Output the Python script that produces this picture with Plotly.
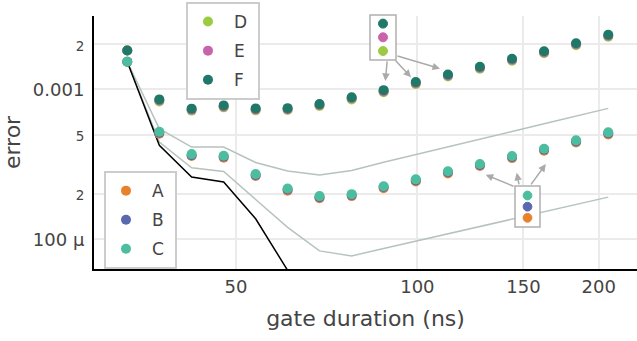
import plotly.graph_objects as go

# ---------------- data ----------------
durations = [33.0, 37.3, 42.2, 47.7, 53.9, 60.9, 68.8, 77.8, 87.9, 99.4,
             112.4, 127.0, 143.6, 162.3, 183.4, 207.4]

A = [1.53e-3, 5.06e-4, 3.59e-4, 3.50e-4, 2.64e-4, 2.11e-4, 1.88e-4, 1.94e-4,
     2.19e-4, 2.43e-4, 2.75e-4, 3.08e-4, 3.48e-4, 3.90e-4, 4.43e-4, 5.01e-4]
B = [1.53e-3, 5.14e-4, 3.64e-4, 3.56e-4, 2.68e-4, 2.15e-4, 1.91e-4, 1.97e-4,
     2.23e-4, 2.47e-4, 2.80e-4, 3.13e-4, 3.54e-4, 3.96e-4, 4.50e-4, 5.09e-4]
C = [1.53e-3, 5.22e-4, 3.70e-4, 3.61e-4, 2.72e-4, 2.18e-4, 1.94e-4, 2.00e-4,
     2.26e-4, 2.51e-4, 2.84e-4, 3.18e-4, 3.59e-4, 4.02e-4, 4.57e-4, 5.17e-4]
D = [1.82e-3, 8.32e-4, 7.22e-4, 7.59e-4, 7.25e-4, 7.28e-4, 7.74e-4, 8.58e-4,
     9.59e-4, 1.085e-3, 1.221e-3, 1.374e-3, 1.554e-3, 1.746e-3, 1.974e-3, 2.246e-3]
E = [1.82e-3, 8.45e-4, 7.33e-4, 7.70e-4, 7.36e-4, 7.39e-4, 7.86e-4, 8.72e-4,
     9.74e-4, 1.102e-3, 1.240e-3, 1.395e-3, 1.578e-3, 1.773e-3, 2.005e-3, 2.280e-3]
F = [1.82e-3, 8.58e-4, 7.44e-4, 7.82e-4, 7.47e-4, 7.50e-4, 7.98e-4, 8.85e-4,
     9.89e-4, 1.119e-3, 1.259e-3, 1.416e-3, 1.602e-3, 1.800e-3, 2.035e-3, 2.315e-3]

black_line = [1.53e-3, 4.23e-4, 2.60e-4, 2.41e-4, 1.37e-4, 6.2e-5, 4.0e-5]
upper_bound = [1.53e-3, 5.47e-4, 4.12e-4, 4.12e-4, 3.25e-4, 2.85e-4, 2.68e-4, 2.88e-4,
               3.26e-4, 3.66e-4, 4.12e-4, 4.65e-4, 5.23e-4, 5.89e-4, 6.64e-4, 7.47e-4]
lower_bound = [1.53e-3, 4.45e-4, 3.00e-4, 2.83e-4, 1.84e-4, 1.20e-4, 8.36e-5, 7.74e-5,
               8.67e-5, 9.71e-5, 1.087e-4, 1.217e-4, 1.362e-4, 1.525e-4, 1.708e-4, 1.91e-4]

series_names = ["A", "B", "C", "D", "E", "F"]
series_values = [A, B, C, D, E, F]
colors = ["#e8822a", "#5a68b0", "#4cbd9f", "#9ccb41", "#c964ab", "#1f7868"]
legend_ids = ["legend", "legend", "legend", "legend2", "legend2", "legend2"]

x_ticks = [50, 100, 150, 200]
y_ticks = [1e-4, 2e-4, 5e-4, 1e-3, 2e-3]
y_ticklabels = ["100 μ", "2", "5", "0.001", "2"]
y_minor = [False, True, True, False, True]

# ---------------- figure ----------------
FONT = "Verdana, DejaVu Sans, sans-serif"
W, H = 637, 341
ML, MR, MT, MB = 94, 0, 16, 72
fig = go.Figure()

gray = "#b6c3bc"
fig.add_trace(go.Scatter(x=durations, y=upper_bound, mode="lines",
                         line=dict(color=gray, width=1.5), showlegend=False, hoverinfo="skip"))
fig.add_trace(go.Scatter(x=durations, y=lower_bound, mode="lines",
                         line=dict(color=gray, width=1.5), showlegend=False, hoverinfo="skip"))
fig.add_trace(go.Scatter(x=durations[:len(black_line)], y=black_line, mode="lines",
                         line=dict(color="black", width=1.5), showlegend=False, hoverinfo="skip"))

for name, vals, col, lg in zip(series_names, series_values, colors, legend_ids):
    fig.add_trace(go.Scatter(x=durations, y=vals, mode="markers", name=name + "\u00a0",
                             legendgroup=name,
                             marker=dict(color=col, size=10), legend=lg))

# plot-area geometry helpers (pixel -> log-axis / paper coordinates for callouts)
XLOG0, PXDEC = 1.46329, 602.5
def px2x(px):
    return XLOG0 + (px - ML) / PXDEC
def px2y(py):
    return -3 - (py - 89.5) / 150.0
def px2paper(px, py):
    return (px - ML) / (W - ML - MR), (H - MB - py) / (H - MT - MB)

shapes = []
def callout_box(cx, cy, w, h, dot_cols, dot_ys, r):
    ax_, ay_ = px2paper(cx, cy)
    shapes.append(dict(type="rect", xref="paper", yref="paper", xsizemode="pixel",
                       ysizemode="pixel", xanchor=ax_, yanchor=ay_,
                       x0=-w / 2, x1=w / 2, y0=-h / 2, y1=h / 2,
                       line=dict(color="#b0b0b0", width=1.5), fillcolor="white"))
    for c, dy in zip(dot_cols, dot_ys):
        dx_, dy_ = px2paper(cx, dy)
        shapes.append(dict(type="circle", xref="paper", yref="paper", xsizemode="pixel",
                           ysizemode="pixel", xanchor=dx_, yanchor=dy_,
                           x0=-r, x1=r, y0=-r, y1=r,
                           line=dict(color=c, width=1), fillcolor=c))

callout_box(383, 37.5, 26, 45, [colors[5], colors[4], colors[3]], [23.6, 37.3, 51.0], 4.5)
callout_box(527.5, 206.5, 25, 41, [colors[2], colors[1], colors[0]], [195.5, 206.7, 217.8], 4.4)

annotations = []
arrows = [((387.3, 60), (385.3, 81)), ((394.3, 59.3), (411, 77.3)), ((396, 55.7), (440, 68.7)),
          ((515, 187), (485.7, 175)), ((519.3, 186), (516.7, 173)), ((530, 186), (545.8, 164.3))]
for (tx, ty), (hx, hy) in arrows:
    annotations.append(dict(x=px2x(hx), y=px2y(hy), xref="x", yref="y", text="",
                            showarrow=True, ax=tx - hx, ay=ty - hy, arrowhead=2,
                            arrowsize=1, arrowwidth=1.5, arrowcolor="#aaaaaa"))

y_ticktext = ['<span style="font-size:13.5px">%s</span>' % t if m else t
              for t, m in zip(y_ticklabels, y_minor)]

legend_common = dict(xanchor="left", yanchor="top", bordercolor="#cccccc", borderwidth=2,
                     bgcolor="white", font=dict(size=17, family=FONT),
                     tracegroupgap=4, itemwidth=42, indentation=-6)

fig.update_layout(
    width=W, height=H,
    margin=dict(l=ML, r=MR, t=MT, b=MB),
    paper_bgcolor="white", plot_bgcolor="white",
    font=dict(family=FONT, color="#444"),
    xaxis=dict(type="log", range=[XLOG0, XLOG0 + (W - ML - MR) / PXDEC],
               tickvals=x_ticks, ticktext=[str(v) for v in x_ticks],
               showline=True, linecolor="black", linewidth=2,
               showgrid=True, gridcolor="#ebebeb", gridwidth=1.5, zeroline=False,
               tickfont=dict(size=18, family=FONT),
               title=dict(text="gate duration (ns)", font=dict(size=22, family=FONT))),
    yaxis=dict(type="log", range=[-4.1987, -2.51],
               tickvals=y_ticks, ticktext=y_ticktext, ticklabelstandoff=4,
               showline=True, linecolor="black", linewidth=2,
               showgrid=True, gridcolor="#ebebeb", gridwidth=1.5, zeroline=False,
               tickfont=dict(size=18, family=FONT),
               title=dict(text="error", font=dict(size=22, family=FONT), standoff=10)),
    legend=dict(x=0.0184, y=0.387, **legend_common),
    legend2=dict(x=0.1694, y=1.0553, **legend_common),
    shapes=shapes,
    annotations=annotations,
)

fig.write_html("out.html")
